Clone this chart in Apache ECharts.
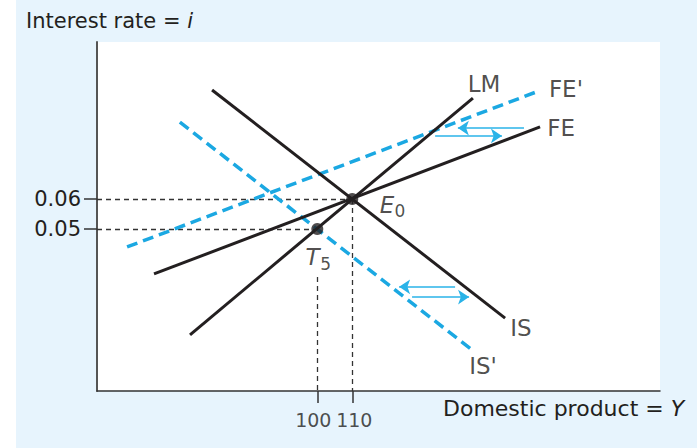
<!DOCTYPE html>
<html><head><meta charset="utf-8">
<script src="https://cdn.jsdelivr.net/npm/echarts@6/dist/echarts.min.js"></script>
<style>html,body{margin:0;padding:0;background:#e7f4fd;}#c{width:697px;height:448px;}</style>
</head><body><div id="c"></div>
<script>
// ---- data (domestic product Y, interest rate i) ----
const lmLine  = [[63.6, 0.0147], [144.5, 0.0936]];
const feLine  = [[53.3, 0.0350], [163.7, 0.0840]];
const fePLine = [[45.6, 0.0440], [163.4, 0.0960]];
const isLine  = [[69.9, 0.0963], [153.7, 0.0203]];
const isPLine = [[60.7, 0.0856], [143.9, 0.0100]];
const pointNames = ['E0', 'T5'];
const pointX = [110, 100];
const pointY = [0.06, 0.05];
const arrowsFE = [[[159.1, 0.0836], [140.2, 0.0836]], [[133.7, 0.0810], [152.8, 0.0810]]];
const arrowsIS = [[[139.4, 0.0307], [123.4, 0.0307]], [[127.1, 0.0273], [143.4, 0.0273]]];
const xTickValues = [100, 110];
const xTickLabels = ['100', '110'];
const yTickValues = [0.05, 0.06];
const yTickLabels = ['0.05', '0.06'];
const xMin = 37, xMax = 198, yMin = -0.004, yMax = 0.1123;
const guideStartY = 0.034; // where the dashed line under T5 begins
const labelTexts = ['LM', "FE'", 'FE', 'IS', "IS'", 'E', '0', 'T', '5'];
const labelX = [147.7, 171.1, 169.7, 158.2, 147.4, 119.9, 123.6, 98.6, 102.4];
const labelY = [0.0983, 0.0966, 0.0836, 0.0170, 0.0043, 0.0580, 0.0560, 0.0407, 0.0383];

const FONT = 'DejaVu Sans';
const INK = '#231f20';
const BLUE = '#1ba8e2';
const ARROW = '#2ab3e8';
const xLabelShift = [[-4, 0], [2, 0]];

const guides = [
  [[xMin, pointY[0]], [pointX[0], pointY[0]]],
  [[xMin, pointY[1]], [pointX[1], pointY[1]]],
  [[pointX[0], pointY[0]], [pointX[0], yMin]],
  [[pointX[1], guideStartY], [pointX[1], yMin]]
];

const labelStyle = (t) => {
  const small = (t === '0' || t === '5');
  const italic = (t === 'E' || t === 'T');
  return { fontSize: small ? 17 : 23, fontStyle: italic ? 'italic' : 'normal' };
};

const chart = echarts.init(document.getElementById('c'), null, { renderer: 'svg' });
chart.setOption({
  backgroundColor: '#e7f4fd',
  animation: false,
  textStyle: { fontFamily: FONT, color: INK },
  grid: { left: 97, top: 42, width: 563, height: 349, show: true, backgroundColor: '#ffffff', borderWidth: 0, containLabel: false },
  xAxis: {
    type: 'value', min: xMin, max: xMax,
    splitLine: { show: false },
    axisLine: { onZero: false, lineStyle: { color: '#333', width: 1.5 } },
    axisTick: { customValues: xTickValues, length: 12, lineStyle: { color: '#333', width: 1.5 } },
    axisLabel: { show: false }
  },
  yAxis: {
    type: 'value', min: yMin, max: yMax,
    splitLine: { show: false },
    axisLine: { onZero: false, lineStyle: { color: '#555', width: 2 } },
    axisTick: { customValues: yTickValues, length: 13, lineStyle: { color: '#333', width: 1.5 } },
    axisLabel: { customValues: yTickValues, hideOverlap: false, margin: 16, fontSize: 21, fontFamily: FONT, color: INK,
      formatter: v => yTickLabels[yTickValues.indexOf(v)] }
  },
  graphic: [
    { type: 'rect', left: 0, top: 0, shape: { width: 16, height: 448 }, style: { fill: '#ffffff' }, silent: true },
    { type: 'text', left: 26, top: 10, style: { rich: { n: { fontFamily: FONT, fontSize: 21, fill: INK }, it: { fontFamily: FONT, fontSize: 21, fontStyle: 'italic', fill: INK } }, text: '{n|Interest rate = }{it|i}' } },
    { type: 'text', left: 443, top: 397, style: { rich: { n: { fontFamily: FONT, fontSize: 22, fill: INK }, it: { fontFamily: FONT, fontSize: 22, fontStyle: 'italic', fill: INK } }, text: '{n|Domestic product = }{it|Y}' } }
  ],
  series: [
    { type: 'lines', coordinateSystem: 'cartesian2d', silent: true, z: 1,
      lineStyle: { color: '#333', width: 1.3, type: [5, 4], opacity: 1 },
      data: guides.map(c => ({ coords: c })) },
    { type: 'line', data: fePLine, showSymbol: false, silent: true, z: 2,
      lineStyle: { color: BLUE, width: 3.5, type: [11, 6] } },
    { type: 'line', data: isPLine, showSymbol: false, silent: true, z: 2,
      lineStyle: { color: BLUE, width: 3.5, type: [11, 6] } },
    { type: 'line', data: lmLine, showSymbol: false, silent: true, z: 3, lineStyle: { color: INK, width: 3 } },
    { type: 'line', data: feLine, showSymbol: false, silent: true, z: 3, lineStyle: { color: INK, width: 3 } },
    { type: 'line', data: isLine, showSymbol: false, silent: true, z: 3, lineStyle: { color: INK, width: 3 } },
    { type: 'lines', coordinateSystem: 'cartesian2d', silent: true, z: 4,
      symbol: ['none', 'arrow'], symbolSize: [7, 11],
      lineStyle: { color: ARROW, width: 1.6, opacity: 1 },
      data: arrowsFE.concat(arrowsIS).map(c => ({ coords: c })) },
    { type: 'scatter', silent: true, z: 5, symbol: 'circle', symbolSize: 12,
      itemStyle: { color: INK },
      data: pointNames.map((n, i) => ({ name: n, value: [pointX[i], pointY[i]] })) },
    { type: 'scatter', silent: true, z: 6, symbolSize: 0, clip: false,
      data: xTickValues.map((v, i) => ({ name: xTickLabels[i], value: [v, yMin], label: { offset: xLabelShift[i] } })),
      label: { show: true, position: 'bottom', distance: 19, formatter: p => p.name, fontSize: 19, fontFamily: FONT, color: INK } },
    { type: 'scatter', silent: true, z: 6, symbolSize: 0,
      data: labelTexts.map((t, i) => ({
        name: t, value: [labelX[i], labelY[i]],
        label: Object.assign({ show: true, position: 'inside', formatter: t, color: INK, fontFamily: FONT }, labelStyle(t))
      })) }
  ]
});
</script></body></html>
